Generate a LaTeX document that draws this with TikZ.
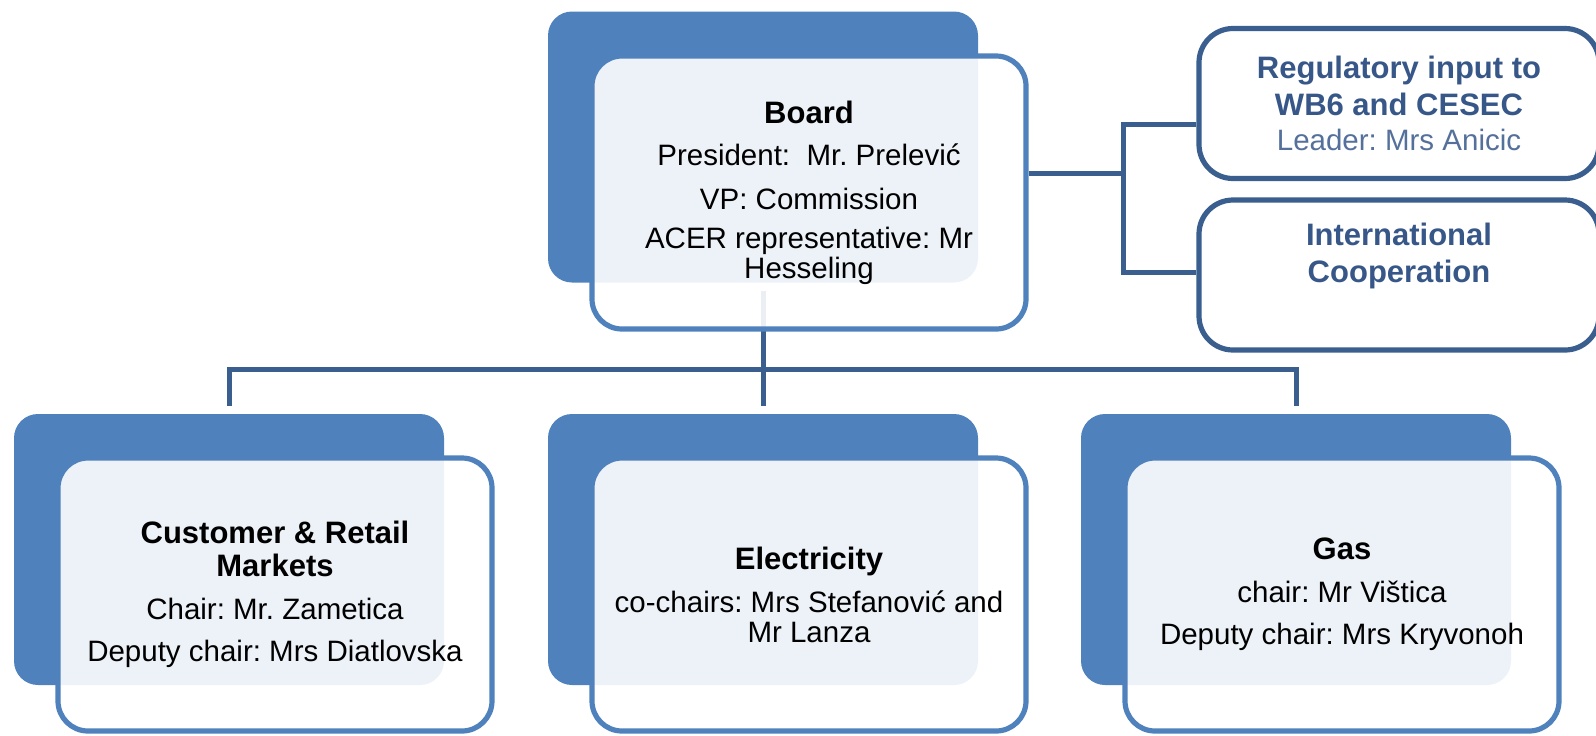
\documentclass[tikz,border=0pt]{standalone}
\usepackage{fontspec}
\setmainfont{Liberation Sans}
\frenchspacing
\definecolor{backblue}{RGB}{79,129,189}
\definecolor{linkblue}{RGB}{58,95,143}
\definecolor{titleblue}{RGB}{55,87,136}
\definecolor{leadblue}{RGB}{84,112,155}
\newcommand\boxtitle[1]{{\fontsize{15.5}{15}\selectfont\bfseries #1}}
\begin{document}
\begin{tikzpicture}[x=0.5pt,y=-0.5pt,
  backbox/.style={fill=backblue, draw=none, rounded corners=12pt,
    minimum width=215pt, minimum height=135.5pt, inner sep=0pt, outer sep=0pt},
  frontbox/.style={draw=backblue, line width=2.6pt, fill=white, fill opacity=0.9,
    text opacity=1, rounded corners=15pt, minimum width=217pt, minimum height=136.5pt,
    inner sep=0pt, align=center, font=\fontsize{14.75}{15}\selectfont},
  sidebox/.style={draw=linkblue, line width=2.6pt, fill=white, rounded corners=17pt,
    minimum width=200pt, minimum height=75pt, inner sep=0pt, align=center,
    text=titleblue, font=\fontsize{15.5}{15}\selectfont\bfseries},
  conn/.style={draw=linkblue, line width=2.5pt, line join=miter}
]
\useasboundingbox (0,0) rectangle (1596,735);

% named points of the connectors
\coordinate (hub) at (763,369);
\coordinate (jr) at (1123,173);
\coordinate (jtop) at (1123,124);
\coordinate (jbot) at (1123,272);

% back boxes
\node[backbox] (bBoard) at (763,147) {};
\node[backbox] (bCust) at (229,549.5) {};
\node[backbox] (bElec) at (763,549.5) {};
\node[backbox] (bGas) at (1296,549.5) {};

% connectors (behind the front boxes)
\draw[conn] ([yshift=-4pt]bBoard.south) -- ([yshift=4pt]bElec.north);
\draw[conn] ([yshift=4pt]bCust.north) -- (bCust.north |- hub) -- (bGas.north |- hub) -- ([yshift=4pt]bGas.north);

% side boxes
\node[sidebox] (reg) at (1399,103.5) {Regulatory input to\\[3.5pt]WB6 and CESEC\\[2.5pt]{\mdseries\color{leadblue}\fontsize{14.75}{15}\selectfont Leader: Mrs Anicic}};
\node[sidebox] (intl) at (1399,275) {International\\[3.5pt]Cooperation\\[7pt]\mbox{}};

% front boxes
\node[frontbox] (fBoard) at (809,192.5) {\boxtitle{Board}\\[6pt]President:\ \ Mr. Prelević\\[7pt]VP: Commission\\[4.5pt]ACER representative: Mr\\Hesseling};
\node[frontbox] (fCust) at (275,594.5) {\boxtitle{Customer \& Retail}\\[1.5pt]\boxtitle{Markets}\\[6.5pt]Chair: Mr. Zametica\\[6pt]Deputy chair: Mrs Diatlovska};
\node[frontbox] (fElec) at (809,594.5) {\boxtitle{Electricity}\\[6.5pt]co-chairs: Mrs Stefanović and\\Mr Lanza};
\node[frontbox] (fGas) at (1342,594.5) {\boxtitle{Gas}\\[6.5pt]chair: Mr Vištica\\[6pt]Deputy chair: Mrs Kryvonoh};

% connectors to the side boxes
\draw[conn] (fBoard.east |- jr) -- (jr);
\draw[conn] (reg.west |- jtop) -- (jtop) -- (jbot) -- (intl.west |- jbot);
\end{tikzpicture}
\end{document}
